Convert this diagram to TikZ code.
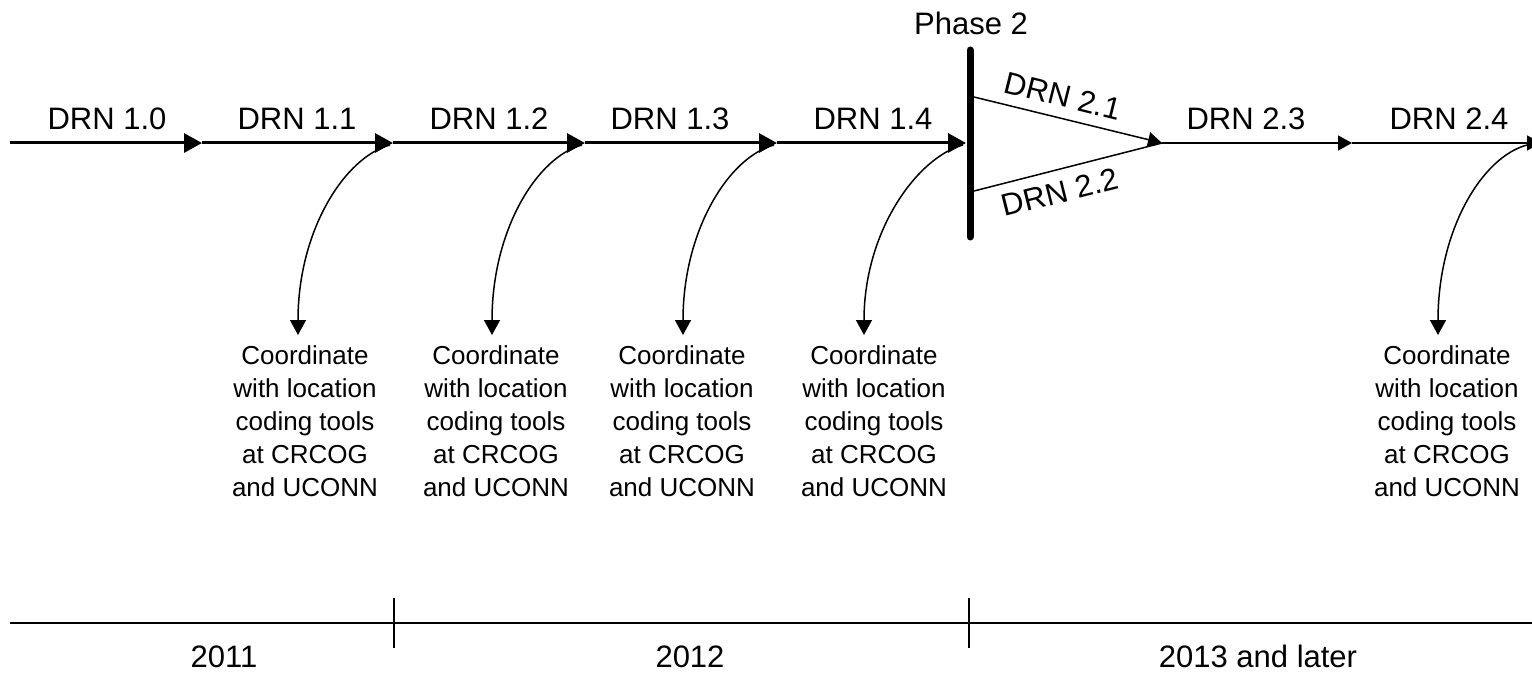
\documentclass[tikz,border=0pt]{standalone}
\usepackage{fontspec}
\setmainfont{Liberation Sans}
\usetikzlibrary{arrows.meta,calc}
\tikzset{
  thickarr/.style={line width=3pt,-{Triangle[length=18pt,width=19pt]}},
  thinarr/.style={line width=1.5pt,-{Triangle[length=14pt,width=15pt]}},
  thinline/.style={line width=1.5pt},
  curvarr/.style={line width=1.5pt,-{Triangle[length=15pt,width=16pt]}},
  lbl/.style={font=\fontsize{31}{36}\selectfont,inner sep=0pt,anchor=base},
  note/.style={font=\fontsize{26}{33}\selectfont,align=center,inner sep=0pt,anchor=north},
  phasebar/.style={line width=7pt,line cap=round},
}
\begin{document}
\begin{tikzpicture}[x=1pt,y=-1pt]
\useasboundingbox (0,0) rectangle (1532,674);
% main line points
\coordinate (p0) at (10,143);
\coordinate (p1) at (202,143);
\coordinate (p2) at (393,143);
\coordinate (p3) at (585,143);
\coordinate (p4) at (777,143);
\coordinate (p5) at (966,143);
\coordinate (bt) at (970,50);
\coordinate (bb) at (970,237);
\coordinate (u1) at (974,97);
\coordinate (d1) at (974,191);
\coordinate (cv) at (1162,143);
\coordinate (p6) at (1352,143);
\coordinate (p7) at (1541,143);

\draw[thickarr] (p0) -- (p1);
\draw[thickarr] (p1) -- (p2);
\draw[thickarr] (p2) -- (p3);
\draw[thickarr] (p3) -- (p4);
\draw[thickarr] (p4) -- (p5);
\draw[phasebar] (bt) -- (bb);
\draw[thinline] (d1) -- (cv);
\draw[thinarr] (u1) -- (cv);
\draw[thinarr] (cv) -- (p6);
\draw[thinarr] (p6) -- (p7);

% labels
\node[lbl] (l10) at (107,130) {DRN 1.0};
\node[lbl] (l11) at (297,130) {DRN 1.1};
\node[lbl] (l12) at (489,130) {DRN 1.2};
\node[lbl] (l13) at (670,130) {DRN 1.3};
\node[lbl] (l14) at (873,130) {DRN 1.4};
\node[lbl] (l23) at (1246,130) {DRN 2.3};
\node[lbl] (l24) at (1449,130) {DRN 2.4};
\node[lbl] (ph) at (971,35) {Phase 2};
\node[font=\fontsize{31}{36}\selectfont,inner sep=0pt,rotate=-14] (l21) at (1063,96) {DRN 2.1};
\node[font=\fontsize{31}{36}\selectfont,inner sep=0pt,rotate=14] (l22) at (1060,192) {DRN 2.2};

% notes
\foreach \n/\tx/\ex/\nx in {a/390/298/305, b/582/492/496, c/774/683/682, d/963/864/874, e/1527/1438/1447}{
  \coordinate (s\n) at (\tx,145);
  \node[note] (n\n) at (\nx,345) {Coordinate\\with location\\coding tools\\at CRCOG\\and UCONN};
  \coordinate (e\n) at (\ex,335);
  \draw[curvarr] (s\n) .. controls ($(s\n)+(-45,12)$) and ($(e\n)+(0,-105)$) .. (e\n);
}

% bottom timeline
\coordinate (t0) at (10,623);
\coordinate (t1) at (1532,623);
\coordinate (k1t) at (394,598);
\coordinate (k1b) at (394,648);
\coordinate (k2t) at (969,598);
\coordinate (k2b) at (969,648);
\draw[thinline] (t0) -- (t1);
\draw[thinline] (k1t) -- (k1b);
\draw[thinline] (k2t) -- (k2b);
\node[lbl] (y1) at (224,667) {2011};
\node[lbl] (y2) at (690,667) {2012};
\node[lbl] (y3) at (1258,667) {2013 and later};
\end{tikzpicture}
\end{document}
